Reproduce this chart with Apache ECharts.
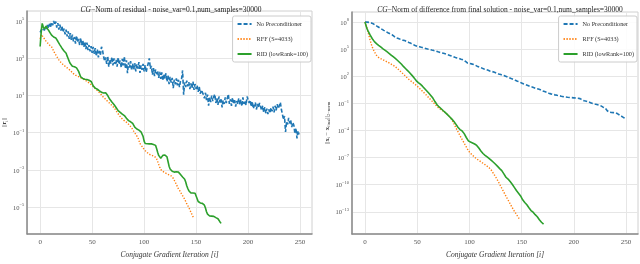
<!DOCTYPE html>
<html>
<head>
<meta charset="utf-8">
<script src="https://cdn.jsdelivr.net/npm/echarts@6/dist/echarts.min.js"></script>
<style>html,body{margin:0;padding:0;background:#fff}#c{width:640px;height:264px}</style>
</head>
<body>
<div id="c"></div>
<script>
// ---- values (log10 of the plotted quantity) ----
const seriesNames = ['No Preconditioner', 'RFF (S=4033)', 'RID (lowRank=100)'];
const xTicks = [0, 50, 100, 150, 200, 250];
const residTicks = [-5, -3, -1, 1, 3, 5];
const diffTicks = [-13, -10, -7, -4, -1, 2, 5, 8];

// Left chart: log10 ||r_i||
const residNoPrec = [
4.40,4.52,4.45,4.63,4.50,4.71,4.58,4.80,4.62,4.86,
4.70,4.95,4.78,5.02,4.80,4.98,4.66,4.90,4.55,4.82,
4.50,4.74,4.42,4.60,4.30,4.55,4.18,4.45,4.05,4.36,
4.00,4.28,3.92,4.15,3.80,4.22,3.86,4.05,3.72,4.10,
3.70,3.98,3.62,3.90,3.50,3.85,3.45,3.72,3.38,3.66,
3.30,3.62,3.25,3.55,3.12,3.48,3.05,3.40,3.20,3.62,
3.45,3.10,2.85,3.05,2.70,3.12,2.55,2.95,2.72,3.08,
2.62,3.00,2.70,2.92,2.55,3.05,2.68,2.88,2.50,2.98,
2.62,3.10,2.45,2.90,2.20,2.78,2.50,2.85,2.35,2.72,
2.40,2.75,2.30,2.68,2.45,2.80,2.22,2.62,2.38,2.70,
2.30,2.65,2.25,2.55,2.72,3.00,2.45,2.60,2.12,2.48,
2.05,2.40,2.15,2.32,1.95,2.28,1.90,2.25,1.80,2.15,
1.92,2.20,1.75,2.08,1.62,2.00,1.70,1.95,1.40,1.85,
1.60,1.92,1.55,1.85,1.45,1.78,1.90,2.35,1.05,1.70,
1.45,1.80,1.50,1.72,1.35,1.65,1.40,1.75,1.30,1.62,
1.35,1.55,1.20,1.48,1.10,1.30,1.25,1.05,0.85,1.15,
0.75,1.05,0.45,0.90,0.65,1.00,0.70,0.95,1.07,0.60,
0.85,0.50,0.95,0.62,0.80,0.36,0.75,0.55,0.90,0.60,
0.85,1.07,0.55,0.80,0.45,0.88,0.60,0.75,0.40,0.70,
0.54,0.85,0.50,0.78,0.42,0.90,0.55,0.72,0.48,0.95,
1.00,0.60,0.75,0.40,0.68,0.30,0.36,0.62,0.25,0.55,
0.35,0.60,0.54,0.20,0.45,0.10,0.38,0.05,0.30,0.00,
0.25,0.05,0.35,0.15,0.40,0.10,0.45,0.20,0.54,0.30,
0.45,0.63,0.25,0.00,-0.30,-0.10,-0.96,-0.40,-0.55,-0.20,
-0.50,-0.34,-0.70,-0.45,-0.60,-1.05,-0.75,-1.30,-0.90,-1.10
];
const residRFF = [
4.05,4.28,4.22,4.15,4.05,3.97,3.90,3.84,3.78,3.72,
3.68,3.62,3.52,3.40,3.28,3.18,3.10,3.00,2.92,2.84,
2.78,2.72,2.67,2.62,2.58,2.54,2.49,2.45,2.40,2.35,
2.29,2.23,2.18,2.13,2.10,2.07,2.04,2.01,1.99,1.96,
1.93,1.90,1.87,1.84,1.80,1.76,1.72,1.69,1.64,1.59,
1.54,1.48,1.43,1.38,1.32,1.27,1.21,1.16,1.10,1.03,
0.96,0.90,0.85,0.79,0.74,0.68,0.63,0.58,0.52,0.47,
0.41,0.36,0.28,0.19,0.10,0.01,-0.06,-0.13,-0.20,-0.26,
-0.31,-0.35,-0.39,-0.43,-0.48,-0.54,-0.60,-0.66,-0.74,-0.83,
-0.92,-1.01,-1.09,-1.16,-1.26,-1.42,-1.58,-1.66,-1.74,-1.82,
-1.90,-1.97,-2.02,-2.07,-2.12,-2.16,-2.19,-2.21,-2.23,-2.25,
-2.27,-2.28,-2.40,-2.54,-2.70,-2.85,-2.98,-3.04,-3.08,-3.12,
-3.15,-3.18,-3.21,-3.24,-3.27,-3.30,-3.32,-3.36,-3.45,-3.56,
-3.66,-3.78,-3.90,-4.02,-4.10,-4.18,-4.30,-4.40,-4.47,-4.58,
-4.70,-4.82,-4.92,-5.02,-5.15,-5.28,-5.40,-5.52,-5.61
];
const residRID = [
3.64,4.40,4.88,4.70,4.58,4.66,4.74,4.60,4.50,4.43,
4.35,4.25,4.18,4.15,4.12,4.10,4.05,3.92,3.82,3.73,
3.65,3.55,3.46,3.40,3.34,3.28,3.12,2.98,2.84,2.72,
2.64,2.58,2.56,2.55,2.52,2.49,2.40,2.30,2.20,2.00,
1.95,1.92,1.90,1.88,1.87,1.86,1.84,1.82,1.80,1.76,
1.65,1.52,1.43,1.40,1.37,1.34,1.30,1.25,1.22,1.18,
1.16,1.14,1.20,1.15,1.10,1.00,0.90,0.80,0.72,0.65,
0.58,0.52,0.45,0.36,0.27,0.19,0.14,0.10,0.06,0.00,
-0.03,-0.08,-0.15,-0.22,-0.30,-0.35,-0.38,-0.41,-0.43,-0.50,
-0.60,-0.70,-0.75,-0.80,-0.84,-0.86,-0.88,-0.95,-1.05,-1.20,
-1.45,-1.58,-1.60,-1.59,-1.58,-1.60,-1.61,-1.60,-1.62,-1.63,
-1.65,-1.68,-1.85,-2.05,-2.22,-2.32,-2.37,-2.30,-2.22,-2.19,
-2.20,-2.22,-2.30,-2.55,-2.80,-2.95,-3.02,-3.07,-3.10,-3.12,
-3.11,-3.10,-3.11,-3.12,-3.18,-3.25,-3.32,-3.38,-3.42,-3.50,
-3.65,-3.85,-4.00,-4.12,-4.21,-4.24,-4.25,-4.24,-4.25,-4.26,
-4.35,-4.55,-4.70,-4.76,-4.78,-4.79,-4.80,-4.82,-4.90,-5.05,
-5.25,-5.38,-5.44,-5.48,-5.50,-5.49,-5.48,-5.50,-5.53,-5.57,
-5.60,-5.63,-5.70,-5.80,-5.88
];

// Right chart: log10 ||x_i - x_final||
const diffNoPrec = [
8.00,8.00,7.99,7.98,7.96,7.93,7.90,7.86,7.80,7.72,
7.65,7.58,7.50,7.43,7.36,7.30,7.22,7.15,7.08,7.00,
6.95,6.90,6.82,6.76,6.70,6.64,6.59,6.50,6.40,6.30,
6.25,6.22,6.18,6.12,6.08,6.03,6.00,5.98,5.95,5.90,
5.85,5.80,5.74,5.69,5.64,5.58,5.52,5.46,5.40,5.35,
5.32,5.30,5.27,5.24,5.20,5.17,5.15,5.12,5.08,5.04,
5.01,4.98,4.97,4.94,4.90,4.86,4.84,4.81,4.79,4.74,
4.70,4.67,4.63,4.60,4.57,4.54,4.51,4.47,4.43,4.40,
4.36,4.32,4.28,4.24,4.20,4.15,4.10,4.07,4.03,4.00,
3.97,3.93,3.88,3.84,3.81,3.75,3.66,3.56,3.47,3.44,
3.42,3.40,3.37,3.35,3.31,3.26,3.20,3.14,3.07,3.02,
2.99,2.95,2.90,2.86,2.80,2.76,2.73,2.70,2.65,2.60,
2.56,2.53,2.51,2.48,2.44,2.40,2.35,2.30,2.26,2.22,
2.18,2.14,2.10,2.07,2.04,2.00,1.95,1.90,1.84,1.78,
1.74,1.72,1.66,1.60,1.55,1.50,1.45,1.40,1.37,1.31,
1.25,1.20,1.15,1.10,1.07,1.02,0.98,0.93,0.88,0.84,
0.82,0.78,0.73,0.68,0.64,0.60,0.58,0.56,0.50,0.44,
0.38,0.34,0.30,0.28,0.22,0.16,0.12,0.08,0.05,0.02,
0.00,-0.03,-0.06,-0.08,-0.11,-0.13,-0.15,-0.18,-0.21,-0.24,
-0.26,-0.28,-0.30,-0.32,-0.33,-0.34,-0.35,-0.36,-0.37,-0.38,
-0.39,-0.40,-0.41,-0.42,-0.43,-0.44,-0.48,-0.55,-0.62,-0.68,
-0.72,-0.73,-0.76,-0.80,-0.84,-0.88,-0.93,-0.98,-1.02,-1.05,
-1.08,-1.10,-1.13,-1.16,-1.19,-1.23,-1.28,-1.34,-1.42,-1.48,
-1.52,-1.65,-1.82,-1.96,-1.98,-2.00,-2.01,-2.02,-2.03,-2.05,
-2.06,-2.10,-2.16,-2.24,-2.31,-2.38,-2.45,-2.52,-2.60,-2.66
];
const diffRFF = [
8.00,7.70,7.30,6.85,6.40,5.95,5.55,5.22,4.95,4.70,
4.50,4.32,4.18,4.08,4.00,3.95,3.90,3.84,3.78,3.72,
3.66,3.60,3.54,3.48,3.42,3.35,3.29,3.22,3.15,3.06,
2.96,2.86,2.75,2.64,2.52,2.42,2.32,2.22,2.10,1.98,
1.86,1.75,1.64,1.55,1.46,1.38,1.29,1.20,1.10,1.00,
0.90,0.79,0.68,0.57,0.46,0.35,0.23,0.11,0.00,-0.12,
-0.25,-0.37,-0.49,-0.61,-0.73,-0.85,-0.97,-1.10,-1.22,-1.35,
-1.45,-1.55,-1.64,-1.72,-1.80,-1.88,-1.96,-2.04,-2.14,-2.25,
-2.36,-2.48,-2.62,-2.78,-2.96,-3.18,-3.45,-3.70,-3.90,-4.12,
-4.35,-4.58,-4.80,-5.00,-5.20,-5.40,-5.60,-5.82,-6.04,-6.25,
-6.40,-6.52,-6.63,-6.74,-6.85,-6.96,-7.06,-7.15,-7.23,-7.31,
-7.39,-7.47,-7.55,-7.63,-7.71,-7.79,-7.87,-7.96,-8.05,-8.14,
-8.23,-8.40,-8.58,-8.76,-8.95,-9.12,-9.30,-9.52,-9.74,-9.96,
-10.18,-10.40,-10.62,-10.84,-11.06,-11.27,-11.48,-11.70,-11.91,-12.12,
-12.33,-12.54,-12.75,-12.93,-13.11,-13.29,-13.47,-13.65,-13.83
];
const diffRID = [
8.00,7.60,7.25,7.00,6.78,6.55,6.35,6.15,5.98,5.83,
5.72,5.62,5.52,5.42,5.33,5.24,5.15,5.06,4.98,4.90,
4.81,4.72,4.63,4.54,4.45,4.35,4.26,4.16,4.07,3.97,
3.87,3.77,3.66,3.55,3.44,3.33,3.20,3.06,2.94,2.83,
2.72,2.60,2.48,2.35,2.22,2.10,1.96,1.82,1.66,1.52,
1.40,1.30,1.20,1.12,1.02,0.90,0.78,0.65,0.52,0.40,
0.28,0.15,0.02,-0.12,-0.26,-0.42,-0.60,-0.80,-0.98,-1.15,
-1.28,-1.40,-1.50,-1.60,-1.70,-1.82,-1.93,-2.03,-2.14,-2.25,
-2.36,-2.48,-2.60,-2.72,-2.85,-2.98,-3.12,-3.30,-3.48,-3.65,
-3.80,-3.90,-3.98,-4.05,-4.18,-4.35,-4.55,-4.78,-5.00,-5.15,
-5.22,-5.28,-5.33,-5.38,-5.44,-5.50,-5.56,-5.66,-5.80,-5.95,
-6.12,-6.28,-6.43,-6.55,-6.65,-6.75,-6.84,-6.93,-7.02,-7.12,
-7.22,-7.32,-7.42,-7.52,-7.63,-7.74,-7.86,-7.98,-8.10,-8.22,
-8.34,-8.45,-8.60,-8.80,-9.00,-9.18,-9.30,-9.38,-9.50,-9.66,
-9.82,-9.95,-10.12,-10.30,-10.48,-10.65,-10.82,-10.94,-11.08,-11.25,
-11.45,-11.68,-11.85,-11.98,-12.10,-12.22,-12.38,-12.55,-12.72,-12.86,
-12.95,-13.05,-13.18,-13.32,-13.44,-13.55,-13.70,-13.88,-14.05,-14.16,
-14.25,-14.36
];

// ---- chart ----
const SERIF = '"Liberation Serif", "DejaVu Serif", serif';
const COLORS = ['#1f77b4', '#ff7f0e', '#2ca02c'];
const pairs = arr => arr.map((v, i) => [i, v]);
const supLabel = v => '{b|10}{e|' + String(v).replace('-', '\u2212') + '}';
const nameRich = {
  n: { fontFamily: SERIF, fontSize: 6.5, color: '#444', lineHeight: 9, verticalAlign: 'middle' },
  v: { fontFamily: SERIF, fontSize: 6.5, fontWeight: 'bold', color: '#444', lineHeight: 9, verticalAlign: 'middle' },
  s: { fontFamily: SERIF, fontSize: 4.5, color: '#444', lineHeight: 9, verticalAlign: 'bottom' }
};

function xAxisCfg(gi) {
  return {
    type: 'value', gridIndex: gi, min: -12.45, max: 261.45,
    name: 'Conjugate Gradient Iteration [i]', nameLocation: 'middle', nameGap: 17,
    nameTextStyle: { fontFamily: SERIF, fontStyle: 'italic', fontSize: 7.5, color: '#333' },
    axisLine: { show: true, onZero: false, lineStyle: { color: '#8a8a8a', width: 1.5 } },
    axisTick: { show: false, customValues: xTicks },
    axisLabel: { customValues: xTicks, fontFamily: SERIF, fontSize: 7, color: '#555', margin: 5 },
    splitLine: { show: true, lineStyle: { color: '#e6e6e6', width: 1 } }
  };
}
function yAxisCfg(gi, ticks, min, max, name, gap) {
  return {
    type: 'value', gridIndex: gi, min: min, max: max,
    name: name, nameLocation: 'middle', nameGap: gap, nameRotate: 90,
    nameTextStyle: { fontFamily: SERIF, fontSize: 6.5, color: '#444', rich: nameRich },
    axisLine: { show: true, onZero: false, lineStyle: { color: '#8a8a8a', width: 1.5 } },
    axisTick: { show: false, customValues: ticks },
    axisLabel: {
      customValues: ticks, margin: 3, formatter: supLabel,
      rich: {
        b: { fontFamily: SERIF, fontSize: 6.5, color: '#555', lineHeight: 9, verticalAlign: 'bottom' },
        e: { fontFamily: SERIF, fontSize: 4.5, color: '#555', lineHeight: 9, verticalAlign: 'top' }
      }
    },
    splitLine: { show: true, lineStyle: { color: '#e6e6e6', width: 1 } }
  };
}
function lineSeries(name, data, idx, gi) {
  const styles = [
    { color: COLORS[0], width: 1.6, type: [4, 2] },
    { color: COLORS[1], width: 1.4, type: [1.3, 1.6] },
    { color: COLORS[2], width: 1.6, type: 'solid' }
  ];
  return {
    type: 'line', name: name, xAxisIndex: gi, yAxisIndex: gi,
    data: pairs(data), symbol: 'none', showSymbol: false, silent: true,
    color: COLORS[idx], lineStyle: styles[idx], animation: false, z: 2 + idx
  };
}
function legendCfg(right) {
  return {
    data: seriesNames, orient: 'vertical', right: right, top: 16,
    itemWidth: 14, itemHeight: 6, itemGap: 9,
    itemStyle: { opacity: 0 },
    padding: [5, 3, 5, 4], backgroundColor: 'rgba(255,255,255,0.85)',
    borderColor: '#cccccc', borderWidth: 1, borderRadius: 2,
    textStyle: { fontFamily: SERIF, fontSize: 6.2, color: '#333' },
    selectedMode: false
  };
}
function titleCfg(x, text) {
  return {
    text: '{i|CG}\u2212' + text, left: x, top: 1, textAlign: 'center',
    textStyle: {
      fontFamily: SERIF, fontSize: 7.5, fontWeight: 'normal', color: '#222',
      rich: { i: { fontFamily: SERIF, fontSize: 7.5, fontStyle: 'italic', color: '#222' } }
    }
  };
}

const chart = echarts.init(document.getElementById('c'), null, { renderer: 'canvas' });
chart.setOption({
  animation: false,
  backgroundColor: '#fff',
  title: [
    titleCfg(166, 'Norm of residual - noise_var=0.1,num_samples=30000'),
    titleCfg(495, 'Norm of difference from final solution - noise_var=0.1,num_samples=30000')
  ],
  legend: [legendCfg(329), legendCfg(3)],
  grid: [
    { left: 21, right: 328, top: 11, bottom: 25, show: true, borderColor: '#d0d0d0', borderWidth: 1, backgroundColor: 'transparent' },
    { left: 352, right: 2, top: 12, bottom: 25, show: true, borderColor: '#d0d0d0', borderWidth: 1, backgroundColor: 'transparent' }
  ],
  xAxis: [xAxisCfg(0), xAxisCfg(1)],
  yAxis: [
    yAxisCfg(0, residTicks, -6.45, 5.55, '{n|||}{v|r}{s|i}{n|||}', 14),
    yAxisCfg(1, diffTicks, -15.46, 9.11, '{n|||}{v|x}{s|i}{n| \u2212 }{v|x}{s|final}{n|||}{s|2\u2212norm}', 18)
  ],
  series: [
    lineSeries(seriesNames[0], residNoPrec, 0, 0),
    lineSeries(seriesNames[1], residRFF, 1, 0),
    lineSeries(seriesNames[2], residRID, 2, 0),
    lineSeries(seriesNames[0], diffNoPrec, 0, 1),
    lineSeries(seriesNames[1], diffRFF, 1, 1),
    lineSeries(seriesNames[2], diffRID, 2, 1)
  ]
});
</script>
</body>
</html>
